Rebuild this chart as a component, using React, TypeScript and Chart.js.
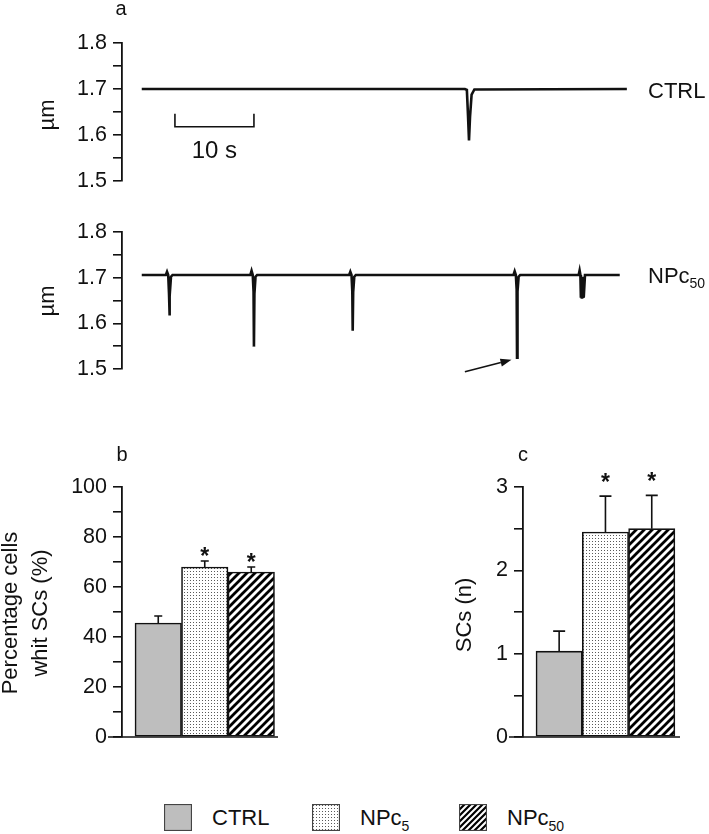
import React, { useEffect, useRef } from 'react';
import { Chart, registerables } from 'chart.js';

Chart.register(...registerables);

const FONT = '"Liberation Sans", Arial, Helvetica, sans-serif';
const INK = '#111111';
const GRAY = '#BEBEBE';
Chart.defaults.font.family = FONT;

// ---------- Panel a : sarcomere length traces (time s, length µm) ----------
const ctrlTime = [0, 40.9, 41.15, 41.3, 41.42, 41.55, 41.75, 42.1, 61.4];
const ctrlLength = [1.7, 1.7, 1.698, 1.64, 1.588, 1.64, 1.688, 1.699, 1.7];

const npcTime = [
  0,
  3.05, 3.2, 3.35, 3.45, 3.5, 3.56, 3.7, 3.9,
  13.75, 13.9, 14.05, 14.15, 14.2, 14.26, 14.4, 14.6,
  26.25, 26.4, 26.55, 26.65, 26.7, 26.76, 26.9, 27.1,
  47.05, 47.2, 47.35, 47.45, 47.5, 47.56, 47.7, 47.9,
  55.3, 55.42, 55.52, 55.58, 55.64, 55.7, 55.76, 55.82, 55.88, 55.94, 56.1,
  60.5,
];
const npcLength = [
  1.706,
  1.706, 1.713, 1.706, 1.665, 1.617, 1.66, 1.702, 1.706,
  1.706, 1.715, 1.706, 1.67, 1.549, 1.665, 1.702, 1.706,
  1.706, 1.713, 1.706, 1.67, 1.584, 1.668, 1.702, 1.706,
  1.706, 1.714, 1.706, 1.675, 1.525, 1.67, 1.702, 1.706,
  1.706, 1.716, 1.706, 1.656, 1.702, 1.654, 1.702, 1.655, 1.702, 1.656, 1.706,
  1.706,
];

const traceNames = ['CTRL', 'NPc'];
const traceSubs = ['', '50'];
const traceTickValues = [1.5, 1.55, 1.6, 1.65, 1.7, 1.75, 1.8];
const traceTickLabels = ['1.5', '', '1.6', '', '1.7', '', '1.8'];
const traceTimeRange = [-2.5, 62];
const scaleBarStart = 4.2;
const scaleBarSeconds = 10;
const scaleBarLevels = [1.618, 1.646];
const scaleBarLabel = '10 s';
const arrowTail = [40.9, 1.494];
const arrowHead = [46.8, 1.52];

// ---------- Panels b and c ----------
const groupNames = ['CTRL', 'NPc', 'NPc'];
const groupSubs = ['', '5', '50'];
const pctMeans = [45.6, 68.0, 66.0];
const pctErrors = [2.8, 2.4, 2.0];
const pctSignificant = [false, true, true];
const pctTickValues = [0, 10, 20, 30, 40, 50, 60, 70, 80, 90, 100];
const pctTickLabels = ['0', '', '20', '', '40', '', '60', '', '80', '', '100'];

const scMeans = [1.03, 2.46, 2.5];
const scErrors = [0.24, 0.43, 0.4];
const scSignificant = [false, true, true];
const scTickValues = [0, 0.5, 1, 1.5, 2, 2.5, 3];
const scTickLabels = ['0', '', '1', '', '2', '', '3'];

const TICK_SIZE = 21.5;
const TITLE_SIZE = 22;

// ---------- helpers ----------
function drawText(ctx: CanvasRenderingContext2D, s: string, x: number, y: number, size: number, align: CanvasTextAlign = 'left', rotate = 0, weight = '') {
  ctx.save();
  ctx.font = `${weight} ${size}px ${FONT}`;
  ctx.fillStyle = INK;
  ctx.textAlign = align;
  ctx.textBaseline = 'middle';
  ctx.translate(x, y);
  if (rotate) ctx.rotate(rotate);
  ctx.fillText(s, 0, 0);
  ctx.restore();
}

function drawSubText(ctx: CanvasRenderingContext2D, main: string, sub: string, x: number, baseline: number, size: number, subSize: number, shift: number) {
  ctx.save();
  ctx.fillStyle = INK;
  ctx.textAlign = 'left';
  ctx.textBaseline = 'alphabetic';
  ctx.font = `${size}px ${FONT}`;
  ctx.fillText(main, x, baseline);
  const w = ctx.measureText(main).width;
  if (sub) {
    ctx.font = `${subSize}px ${FONT}`;
    ctx.fillText(sub, x + w, baseline + shift);
  }
  ctx.restore();
}

function drawStar(ctx: CanvasRenderingContext2D, x: number, cy: number, size: number) {
  ctx.save();
  ctx.font = `bold ${size}px ${FONT}`;
  ctx.fillStyle = INK;
  ctx.textAlign = 'center';
  ctx.textBaseline = 'alphabetic';
  const m = ctx.measureText('*');
  const asc = m.actualBoundingBoxAscent;
  const desc = m.actualBoundingBoxDescent;
  ctx.fillText('*', x, cy - (desc - asc) / 2);
  ctx.restore();
}

function makeDots(): CanvasPattern {
  const c = document.createElement('canvas');
  c.width = 3; c.height = 3;
  const g = c.getContext('2d')!;
  g.fillStyle = '#ffffff';
  g.fillRect(0, 0, 3, 3);
  g.fillStyle = '#5a5a5a';
  g.fillRect(1, 1, 1, 1);
  return g.createPattern(c, 'repeat')!;
}

function makeHatch(p: number, lw: number): CanvasPattern {
  const c = document.createElement('canvas');
  c.width = p; c.height = p;
  const g = c.getContext('2d')!;
  g.fillStyle = '#ffffff';
  g.fillRect(0, 0, p, p);
  g.strokeStyle = '#000000';
  g.lineWidth = lw;
  g.beginPath();
  g.moveTo(-1, p + 1); g.lineTo(p + 1, -1);
  g.moveTo(-p / 2 - 1, p / 2 + 1); g.lineTo(p / 2 + 1, -p / 2 - 1);
  g.moveTo(p / 2 - 1, p * 1.5 + 1); g.lineTo(p * 1.5 + 1, p / 2 - 1);
  g.stroke();
  return g.createPattern(c, 'repeat')!;
}

function yScale(min: number, max: number, values: number[], labels: string[], leftWidth: number) {
  return {
    type: 'linear',
    position: 'left',
    min,
    max,
    afterFit: (s: any) => { s.width = leftWidth; },
    afterBuildTicks: (s: any) => { s.ticks = values.map((v) => ({ value: v })); },
    ticks: {
      autoSkip: false,
      padding: 6,
      color: INK,
      font: { family: FONT, size: TICK_SIZE },
      callback: (_v: any, i: number) => labels[i],
    },
    grid: { display: true, drawOnChartArea: false, drawTicks: true, tickLength: 9, color: INK, lineWidth: 1.6 },
    border: { display: true, color: INK, width: 1.8 },
  };
}

function traceConfig(times: number[], values: number[], padTop: number, padBottom: number, deco: (c: any) => void): any {
  return {
    type: 'line',
    data: {
      datasets: [{
        data: times.map((t, i) => ({ x: t, y: values[i] })),
        borderColor: INK,
        borderWidth: 2.6,
        pointRadius: 0,
        tension: 0,
        fill: false,
        clip: false,
      }],
    },
    options: {
      animation: false,
      responsive: false,
      devicePixelRatio: 1,
      events: [],
      layout: { padding: { left: 0, right: 77.4, top: padTop, bottom: padBottom } },
      plugins: { legend: { display: false }, tooltip: { enabled: false } },
      scales: {
        x: { type: 'linear', min: traceTimeRange[0], max: traceTimeRange[1], display: false },
        y: yScale(1.5, 1.8, traceTickValues, traceTickLabels, 122),
      },
    },
    plugins: [{ id: 'deco', afterDraw: deco }],
  };
}

interface BarOpts {
  means: number[]; errs: number[]; sig: boolean[]; fills: any[];
  max: number; tickValues: number[]; tickLabels: string[];
  left: number; right: number; xMin: number; xMax: number;
  cap: number; starGap: number; letter: string; letterX: number;
  titles: string[]; titleX: number[]; titleY: number;
}

function barConfig(o: BarOpts): any {
  return {
    type: 'bar',
    data: {
      datasets: [{
        data: o.means.map((m, i) => ({ x: i + 1, y: m })),
        backgroundColor: o.fills,
        borderColor: INK,
        borderWidth: 1.6,
        borderSkipped: false,
        barPercentage: 1,
        categoryPercentage: 1,
      }],
    },
    options: {
      animation: false,
      responsive: false,
      devicePixelRatio: 1,
      events: [],
      layout: { padding: { left: 0, right: o.right, top: 67, bottom: 23 } },
      plugins: { legend: { display: false }, tooltip: { enabled: false } },
      scales: {
        x: {
          type: 'linear', min: o.xMin, max: o.xMax, offset: false, display: false,
          afterBuildTicks: (s: any) => { s.ticks = o.means.map((_m, i) => ({ value: i + 1 })); },
        },
        y: yScale(0, o.max, o.tickValues, o.tickLabels, o.left),
      },
    },
    plugins: [{
      id: 'deco',
      afterDraw: (chart: any) => {
        const ctx: CanvasRenderingContext2D = chart.ctx;
        const xs = chart.scales.x;
        const ys = chart.scales.y;
        const area = chart.chartArea;
        ctx.save();
        ctx.strokeStyle = INK;
        ctx.lineWidth = 1.7;
        const y0 = ys.getPixelForValue(0);
        ctx.beginPath();
        ctx.moveTo(area.left - 14, y0);
        ctx.lineTo(area.right, y0);
        ctx.stroke();
        ctx.lineWidth = 1.6;
        o.means.forEach((m, i) => {
          const x = xs.getPixelForValue(i + 1);
          const yb = ys.getPixelForValue(m);
          const yt = ys.getPixelForValue(m + o.errs[i]);
          ctx.beginPath();
          ctx.moveTo(x, yb);
          ctx.lineTo(x, yt);
          ctx.moveTo(x - o.cap / 2, yt);
          ctx.lineTo(x + o.cap / 2, yt);
          ctx.stroke();
          if (o.sig[i]) drawStar(ctx, x, yt - o.starGap, 23);
        });
        ctx.restore();
        drawText(ctx, o.letter, o.letterX, 35, 20, 'center');
        o.titles.forEach((t, i) => drawText(ctx, t, o.titleX[i], o.titleY, TITLE_SIZE, 'center', -Math.PI / 2));
      },
    }],
  };
}

export default function App() {
  const topRef = useRef<HTMLCanvasElement>(null);
  const botRef = useRef<HTMLCanvasElement>(null);
  const bRef = useRef<HTMLCanvasElement>(null);
  const cRef = useRef<HTMLCanvasElement>(null);
  const sw0 = useRef<HTMLCanvasElement>(null);
  const sw1 = useRef<HTMLCanvasElement>(null);
  const sw2 = useRef<HTMLCanvasElement>(null);

  useEffect(() => {
    const fills = [GRAY, makeDots(), makeHatch(8, 2.8)];
    const legendFills = [GRAY, makeDots(), makeHatch(6, 2.2)];

    const top = new Chart(topRef.current!, traceConfig(ctrlTime, ctrlLength, 43, 19, (chart: any) => {
      const ctx: CanvasRenderingContext2D = chart.ctx;
      const xs = chart.scales.x;
      const ys = chart.scales.y;
      drawText(ctx, 'a', 121, 9, 20, 'center');
      drawText(ctx, 'µm', 48, 115, TITLE_SIZE, 'center', -Math.PI / 2);
      drawSubText(ctx, traceNames[0], traceSubs[0], 648, 98, 22, 14, 5);
      const x0 = xs.getPixelForValue(scaleBarStart);
      const x1 = xs.getPixelForValue(scaleBarStart + scaleBarSeconds);
      const yb = ys.getPixelForValue(scaleBarLevels[0]);
      const yt = ys.getPixelForValue(scaleBarLevels[1]);
      ctx.save();
      ctx.strokeStyle = INK;
      ctx.lineWidth = 1.6;
      ctx.beginPath();
      ctx.moveTo(x0, yt);
      ctx.lineTo(x0, yb);
      ctx.lineTo(x1, yb);
      ctx.lineTo(x1, yt);
      ctx.stroke();
      ctx.restore();
      drawText(ctx, scaleBarLabel, (x0 + x1) / 2, yb + 25, 24, 'center');
    }));

    const bot = new Chart(botRef.current!, traceConfig(npcTime, npcLength, 32, 31, (chart: any) => {
      const ctx: CanvasRenderingContext2D = chart.ctx;
      const xs = chart.scales.x;
      const ys = chart.scales.y;
      drawText(ctx, 'µm', 48, 101, TITLE_SIZE, 'center', -Math.PI / 2);
      drawSubText(ctx, traceNames[1], traceSubs[1], 648, 83, 22, 14, 5);
      const ax0 = xs.getPixelForValue(arrowTail[0]);
      const ay0 = ys.getPixelForValue(arrowTail[1]);
      const ax1 = xs.getPixelForValue(arrowHead[0]);
      const ay1 = ys.getPixelForValue(arrowHead[1]);
      const ang = Math.atan2(ay1 - ay0, ax1 - ax0);
      const hl = 11, hw = 4;
      const bx = ax1 - hl * Math.cos(ang);
      const by = ay1 - hl * Math.sin(ang);
      ctx.save();
      ctx.strokeStyle = INK;
      ctx.fillStyle = INK;
      ctx.lineWidth = 1.6;
      ctx.beginPath();
      ctx.moveTo(ax0, ay0);
      ctx.lineTo(bx, by);
      ctx.stroke();
      ctx.beginPath();
      ctx.moveTo(ax1, ay1);
      ctx.lineTo(bx - hw * Math.sin(ang), by + hw * Math.cos(ang));
      ctx.lineTo(bx + hw * Math.sin(ang), by - hw * Math.cos(ang));
      ctx.closePath();
      ctx.fill();
      ctx.restore();
    }));

    const b = new Chart(bRef.current!, barConfig({
      means: pctMeans, errs: pctErrors, sig: pctSignificant, fills,
      max: 100, tickValues: pctTickValues, tickLabels: pctTickLabels,
      left: 122, right: 76, xMin: 0.5 - 13 / 46.5, xMax: 0.5 - 13 / 46.5 + 156 / 46.5,
      cap: 8, starGap: 10, letter: 'b', letterX: 122,
      titles: ['Percentage cells', 'whit SCs (%)'], titleX: [11, 41], titleY: 193,
    }));

    const c = new Chart(cRef.current!, barConfig({
      means: scMeans, errs: scErrors, sig: scSignificant, fills,
      max: 3, tickValues: scTickValues, tickLabels: scTickLabels,
      left: 169, right: 29, xMin: 0.5 - 13 / 46.3, xMax: 0.5 - 13 / 46.3 + 157 / 46.3,
      cap: 12, starGap: 19, letter: 'c', letterX: 169,
      titles: ['SCs (n)'], titleX: [111], titleY: 195,
    }));

    [sw0, sw1, sw2].forEach((r, i) => {
      const cv = r.current!;
      const g = cv.getContext('2d')!;
      g.clearRect(0, 0, cv.width, cv.height);
      g.fillStyle = legendFills[i] as any;
      g.fillRect(0, 0, cv.width, cv.height);
      g.strokeStyle = '#444444';
      g.lineWidth = 1.2;
      g.strokeRect(0.5, 0.5, cv.width - 1, cv.height - 1);
    });

    const charts = [top, bot, b, c];
    return () => charts.forEach((ch) => ch.destroy());
  }, []);

  const abs = (left: number, top: number, w: number, h: number): React.CSSProperties => ({
    position: 'absolute', left, top, width: w, height: h, display: 'block',
  });
  const legendLeft = [164, 312, 459];
  const swRefs = [sw0, sw1, sw2];

  return (
    <div style={{ position: 'absolute', left: 0, top: 0, width: 709, height: 834, background: '#fff', overflow: 'hidden' }}>
      <canvas ref={topRef} width={709} height={200} style={abs(0, 0, 709, 200)} />
      <canvas ref={botRef} width={709} height={200} style={abs(0, 200, 709, 200)} />
      <canvas ref={bRef} width={354} height={340} style={abs(0, 420, 354, 340)} />
      <canvas ref={cRef} width={355} height={340} style={abs(354, 420, 355, 340)} />
      {groupNames.map((name, i) => (
        <div key={i} style={{ position: 'absolute', left: legendLeft[i], top: 804, height: 27, display: 'flex', alignItems: 'center', fontFamily: FONT, fontSize: 22, color: INK, whiteSpace: 'nowrap', lineHeight: 1 }}>
          <canvas ref={swRefs[i]} width={28} height={27} style={{ display: 'block', width: 28, height: 27, marginRight: 20 }} />
          <span>
            {name}
            {groupSubs[i] ? <span style={{ fontSize: 14, position: 'relative', top: 6 }}>{groupSubs[i]}</span> : null}
          </span>
        </div>
      ))}
    </div>
  );
}
